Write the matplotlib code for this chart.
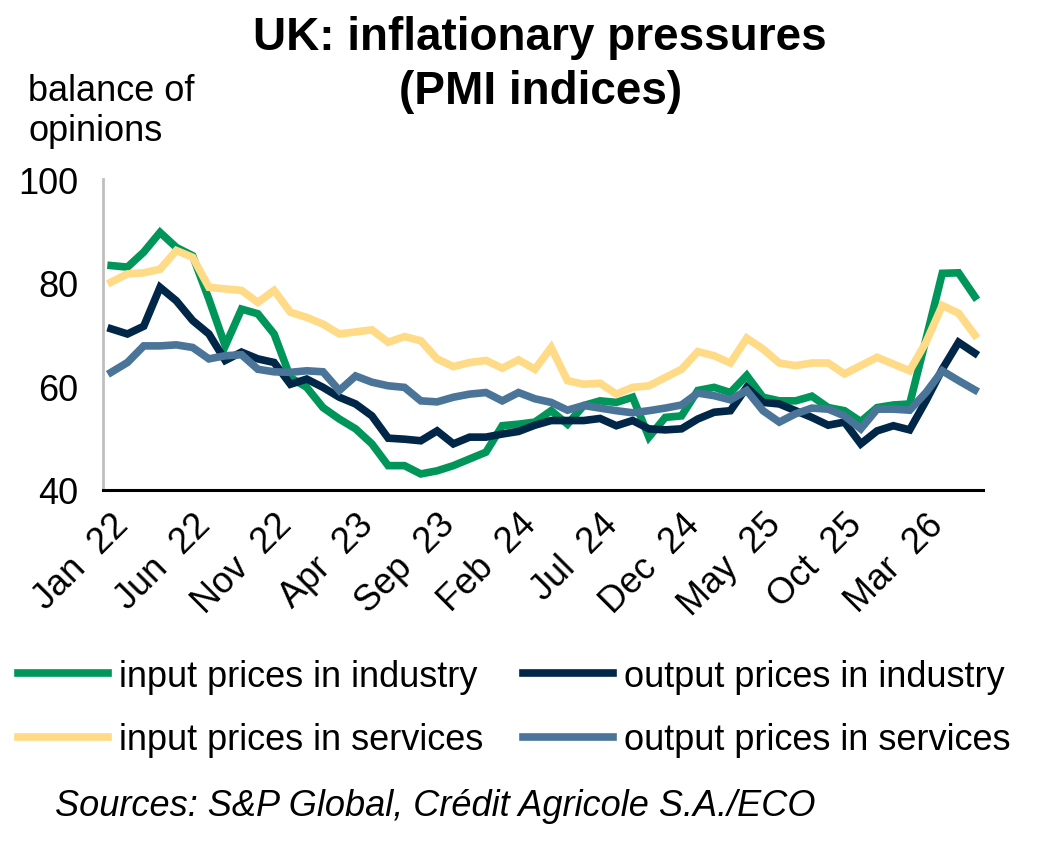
import matplotlib
matplotlib.use("Agg")
import matplotlib.pyplot as plt
import numpy as np

plt.rcParams['font.family'] = ['Liberation Sans', 'DejaVu Sans']

# Monthly data, Jan 22 .. Jun 26 (54 months)
input_industry = [83.3, 83.0, 85.9, 89.7, 86.8, 85.2, 76.8, 67.8, 74.9, 74.0,
                  70.1, 61.7, 59.8, 55.9, 53.7, 51.8, 48.9, 44.7, 44.7, 43.1,
                  43.7, 44.7, 46.0, 47.3, 52.4, 52.7, 53.1, 55.3, 52.7, 56.3,
                  57.2, 56.9, 57.9, 50.2, 54.0, 54.3, 59.2, 59.8, 58.8, 62.1,
                  57.9, 57.2, 57.2, 58.1, 55.9, 55.3, 53.2, 55.9, 56.4, 56.6,
                  69.1, 81.8, 81.9, 77.3]
output_industry = [71.1, 70.1, 71.6, 79.1, 76.5, 72.7, 70.1, 65.0, 66.6, 65.3,
                   64.6, 60.4, 61.4, 59.8, 57.9, 56.6, 54.3, 50.0, 49.8, 49.5,
                   51.4, 48.9, 50.2, 50.2, 50.8, 51.3, 52.5, 53.4, 53.4, 53.4,
                   53.8, 52.4, 53.4, 51.8, 51.6, 51.8, 53.7, 55.0, 55.3, 59.8,
                   56.9, 56.6, 55.3, 54.0, 52.5, 53.1, 48.9, 51.4, 52.4, 51.6,
                   57.2, 63.3, 68.5, 66.4]
input_services = [80.1, 81.7, 81.9, 82.6, 86.2, 84.9, 79.1, 78.8, 78.5, 76.2,
                  78.5, 74.3, 73.3, 72.0, 70.1, 70.5, 70.9, 68.5, 69.6, 68.8,
                  65.3, 63.8, 64.6, 65.0, 63.5, 65.1, 63.3, 67.5, 61.1, 60.4,
                  60.6, 58.5, 59.8, 60.1, 61.7, 63.3, 66.7, 65.9, 64.5, 69.3,
                  67.2, 64.5, 64.0, 64.5, 64.5, 62.4, 64.0, 65.6, 64.3, 63.0,
                  68.5, 75.6, 74.1, 69.9]
output_services = [62.7, 64.6, 67.8, 67.8, 68.0, 67.5, 65.3, 65.9, 66.1, 63.3,
                   62.8, 62.7, 63.0, 62.8, 59.2, 62.0, 60.8, 60.1, 59.8, 57.2,
                   57.0, 57.9, 58.5, 58.8, 57.2, 58.8, 57.6, 56.9, 55.4, 56.3,
                   55.8, 55.3, 54.9, 55.3, 55.8, 56.4, 58.7, 58.2, 57.4, 59.2,
                   55.3, 53.1, 54.7, 55.8, 55.6, 54.3, 51.8, 55.6, 55.6, 55.4,
                   58.8, 63.0, 61.1, 59.3]

tick_labels = ["Jan  22", "Jun  22", "Nov  22", "Apr  23", "Sep  23", "Feb  24",
               "Jul  24", "Dec  24", "May  25", "Oct  25", "Mar  26"]
series_names = ["input prices in industry", "output prices in industry",
                "input prices in services", "output prices in services"]
colors = ["#00965A", "#002648", "#FFDB87", "#4A7599"]

FS = 26

fig = plt.figure(figsize=(10.39, 8.45), dpi=100)
ax = fig.add_axes([103/1039, 1-491/845, 880/1039, 311/845])

x = np.arange(len(input_industry))
lines = []
for vals, c, name in zip([input_industry, output_industry, input_services, output_services],
                         colors, series_names):
    ln, = ax.plot(x, vals, color=c, lw=5.5, label=name, solid_joinstyle='miter')
    lines.append(ln)

ax.set_xlim(-0.5, len(x) - 0.5)
ax.set_ylim(40, 100)
ax.set_yticks([40, 60, 80, 100])
ax.set_xticks(np.arange(0, len(x), 5))
ax.set_xticklabels(tick_labels, rotation=45, ha='right', rotation_mode='anchor')
ax.tick_params(axis='both', length=0, labelsize=FS, colors='black')
ax.tick_params(axis='x', pad=12)
ax.tick_params(axis='y', pad=18)
for s in ['top', 'right']:
    ax.spines[s].set_visible(False)
ax.spines['left'].set_color('#BFBFBF')
ax.spines['left'].set_linewidth(2)
ax.spines['bottom'].set_color('black')
ax.spines['bottom'].set_linewidth(2.2)

fig.text(0.52, 1-16/845, "UK: inflationary pressures\n(PMI indices)", ha='center', va='top',
         fontsize=33, fontweight='bold', linespacing=1.3)
fig.text(28/1039, 1-74/845, "balance of\nopinions", ha='left', va='top', fontsize=FS,
         linespacing=1.2)

handles = [lines[0], lines[2], lines[1], lines[3]]
labels = [series_names[0], series_names[2], series_names[1], series_names[3]]
fig.legend(handles, labels, loc='upper left', bbox_to_anchor=(18/1039, 1-660/845), ncol=2,
           frameon=False, fontsize=FS, handlelength=2.5, handletextpad=0.3,
           columnspacing=1.1, labelspacing=0.78, borderpad=0, borderaxespad=0)

fig.text(55/1039, 1-807/845, "Sources: S&P Global, Crédit Agricole S.A./ECO", ha='left',
         va='center', fontsize=FS, style='italic')

fig.savefig("out.png", dpi=100)
